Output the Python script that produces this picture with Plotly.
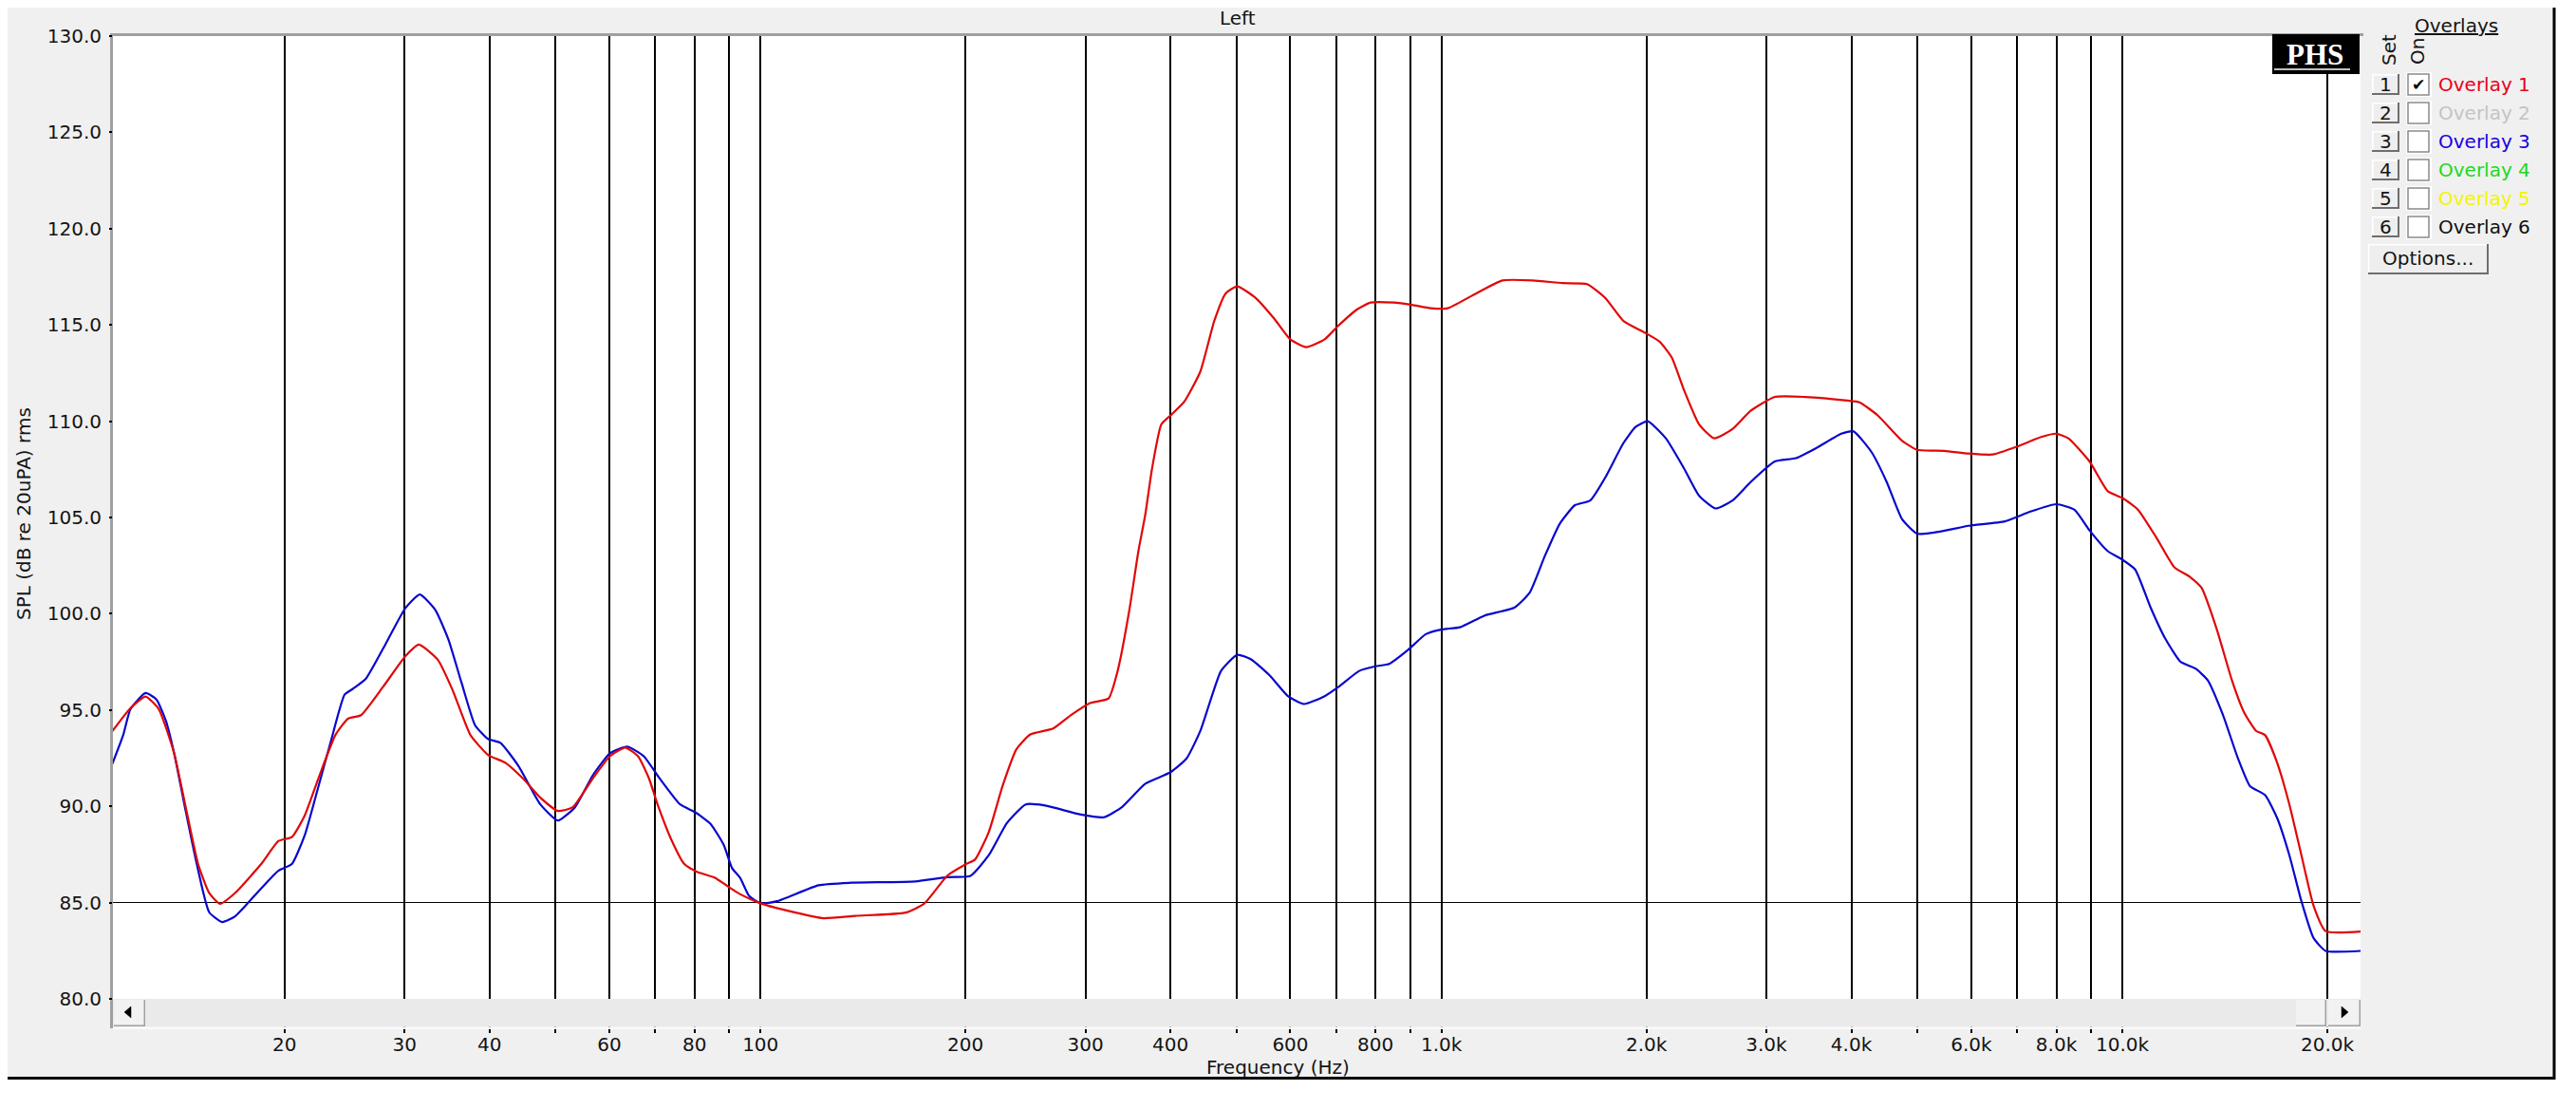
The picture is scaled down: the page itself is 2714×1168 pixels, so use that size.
import plotly.graph_objects as go

# ---------------- data ----------------
RED_FREQ = [11.17, 11.88, 12.5, 13.07, 13.77, 14.29, 14.93, 15.5, 16.07, 16.92, 18.48, 19.6, 20.5, 21.4,
            22.4, 23.75, 24.8, 25.9, 27.9, 30.1, 31.5, 33.6, 35.3, 37.5, 39.8, 42.2, 44.8, 47.5, 50.4,
            53.0, 56.7, 60.1, 63.3, 66.1, 68.6, 70.6, 73.9, 77.3, 80.7, 85.6, 90.8, 93.4, 100.2, 112.6,
            123.6, 137.8, 163.5, 174.0, 188.1, 200.2, 206.5, 216.4, 226.7, 237.6, 249.0, 269.0, 286.4,
            304.7, 324.4, 334.6, 347.9, 358.9, 367.4, 375.9, 387.8, 400.1, 419.3, 442.6, 463.8, 482.2,
            501.4, 533.7, 568.0, 599.8, 633.0, 673.8, 706.2, 751.3, 787.3, 851.0, 905.6, 963.8, 1022,
            1109, 1229, 1362, 1508, 1637, 1740, 1851, 1988, 2092, 2180, 2271, 2391, 2516, 2676, 2845,
            3088, 3420, 3947, 4112, 4373, 4746, 4996, 5477, 5944, 6452, 7003, 7599, 7998, 8332, 8950,
            9521, 10020, 10546, 11213, 11925, 12552, 13075, 13764, 14484, 15092, 15718, 16210, 16884,
            17591, 18323, 19090, 19884, 22400]
RED_SPL = [93.9, 95.1, 95.7, 95.05, 92.75, 90.1, 87.0, 85.5, 84.94, 85.5, 87.0, 88.2, 88.4, 89.5,
           91.4, 93.7, 94.56, 94.73, 96.2, 97.8, 98.4, 97.6, 96.04, 93.7, 92.67, 92.26, 91.44, 90.45, 89.76,
           89.95, 91.44, 92.6, 93.05, 92.6, 91.44, 90.1, 88.3, 87.0, 86.6, 86.3, 85.7, 85.43, 84.95, 84.48,
           84.19, 84.31, 84.48, 84.95, 86.4, 86.99, 87.23, 88.66, 91.05, 92.96, 93.73, 94.04, 94.76,
           95.36, 95.6, 97.03, 100.14, 103.25, 105.16, 107.55, 109.83, 110.3, 111.02, 112.58, 115.2, 116.64,
           117.0, 116.4, 115.33, 114.25, 113.84, 114.25, 114.97, 115.8, 116.16, 116.16, 116.04, 115.87, 115.87,
           116.52, 117.31, 117.31, 117.17, 117.12, 116.4, 115.2, 114.6, 114.13, 113.3, 111.62, 109.83, 109.11, 109.59, 110.54,
           111.26, 111.26, 111.07, 110.98, 110.3, 108.99, 108.51, 108.46, 108.32, 108.27, 108.68, 109.18, 109.35, 109.11, 107.91,
           106.36, 106.0, 105.4, 103.97, 102.41, 101.93, 101.34, 99.19, 96.55, 94.88, 93.92, 93.69, 92.25,
           90.1, 87.46, 84.84, 83.52, 83.5]

BLUE_FREQ = [11.17, 11.59, 11.88, 12.5, 12.97, 13.4, 13.77, 14.29, 14.8, 15.5, 16.2, 16.92, 17.9, 19.6,
             20.5, 21.4, 22.2, 23.4, 24.5, 25.2, 26.3, 27.9, 30.1, 31.6, 33.3, 34.8, 36.4, 38.1, 39.8,
             41.5, 44.1, 47.5, 50.4, 53.4, 56.7, 60.1, 63.7, 67.4, 70.6, 76.2, 80.1, 84.4, 88.3, 90.8,
             93.4, 96.2, 100.2, 105.8, 121.7, 135.7, 168.7, 188.1, 203.4, 216.4, 230.2, 245.2, 260.9,
             295.4, 319.3, 339.8, 367.4, 400.1, 422.5, 442.6, 456.6, 474.6, 501.4, 525.5, 559.3, 595.0,
             628.0, 673.8, 706.2, 757.2, 799.7, 837.9, 891.8, 948.8, 1002, 1065, 1156, 1281, 1348, 1419,
             1493, 1571, 1654, 1740, 1851, 1928, 2009, 2136, 2271, 2391, 2527, 2676, 2845, 3088, 3317,
             3563, 3866, 4030, 4283, 4508, 4746, 4996, 5366, 5944, 6722, 7296, 7998, 8506, 8950, 9521,
             9918, 10441, 10986, 11561, 12170, 12808, 13346, 14047, 14784, 15398, 16210, 16884, 17591,
             18323, 19090, 19884, 22400]
BLUE_SPL = [92.2, 93.7, 95.05, 95.88, 95.55, 94.4, 92.75, 89.9, 87.3, 84.5, 83.99, 84.28, 85.2, 86.66,
            87.0, 88.47, 90.45, 93.4, 95.8, 96.1, 96.6, 98.18, 100.3, 101.0, 100.2, 98.67, 96.4, 94.2, 93.5,
            93.3, 92.1, 90.1, 89.26, 89.95, 91.6, 92.75, 93.1, 92.6, 91.6, 90.1, 89.7, 89.1, 88.0, 86.8,
            86.27, 85.35, 84.95, 85.07, 85.9, 86.03, 86.1, 86.32, 86.39, 87.46, 89.14, 90.1, 90.05,
            89.57, 89.43, 89.97, 91.17, 91.77, 92.49, 93.92, 95.36, 97.03, 97.87, 97.63, 96.8, 95.72,
            95.31, 95.72, 96.2, 97.03, 97.27, 97.39, 98.1, 98.94, 99.19, 99.3, 99.9, 100.33, 101.1, 103.01,
            104.69, 105.64, 105.88, 107.07, 108.87, 109.7, 110.0, 109.11, 107.55, 106.12, 105.47, 105.88, 106.84, 107.91, 108.08,
            108.63, 109.35, 109.47, 108.39, 106.84, 104.92, 104.16, 104.25, 104.57, 104.8, 105.28, 105.69, 105.4, 104.33, 103.25,
            102.89, 102.3, 100.38, 98.71, 97.51, 97.15, 96.55, 94.76, 92.49, 91.05, 90.58, 89.38, 87.46,
            85.07, 83.16, 82.49, 82.49]

X_GRID = [20, 30, 40, 50, 60, 70, 80, 90, 100, 200, 300, 400, 500, 600, 700, 800, 900,
          1000, 2000, 3000, 4000, 5000, 6000, 7000, 8000, 9000, 10000, 20000]
X_LABELS = ["20", "30", "40", "", "60", "", "80", "", "100", "200", "300", "400", "", "600", "", "800", "",
            "1.0k", "2.0k", "3.0k", "4.0k", "", "6.0k", "", "8.0k", "", "10.0k", "20.0k"]
Y_TICKS = [80, 85, 90, 95, 100, 105, 110, 115, 120, 125, 130]
Y_LABELS = ["80.0", "85.0", "90.0", "95.0", "100.0", "105.0", "110.0", "115.0", "120.0", "125.0", "130.0"]
Y_THIN_GRID = [85]
Y_THICK_GRID = [90, 95, 100, 105, 110, 115, 120, 125, 130]

OVERLAY_NAMES = ["Overlay 1", "Overlay 2", "Overlay 3", "Overlay 4", "Overlay 5", "Overlay 6"]
OVERLAY_COLORS = ["#E8001A", "#C4C4C4", "#1A00E0", "#1ED81E", "#F4F400", "#101010"]

# ---------------- layout geometry (pixels of the reference) ----------------
OFF = 8                      # the page body has an 8px margin
W, H = 2714 - 2 * OFF, 1168 - 2 * OFF - 2
L, R, T, B = 119, 2487, 38, 1052
FONT = "DejaVu Sans"
TXT = "#141414"


def px(x):
    return (x - L) / (R - L)


def py(y):
    return (B - y) / (B - T)


shapes = []


def rect(x0, y0, x1, y1, fill, line_color=None, lw=0, layer="below"):
    shapes.append(dict(type="rect", xref="paper", yref="paper", x0=px(x0), x1=px(x1),
                       y0=py(y1), y1=py(y0), fillcolor=fill, layer=layer,
                       line=dict(color=line_color or fill, width=lw)))


def seg(x0, y0, x1, y1, color, lw, layer="below"):
    shapes.append(dict(type="line", xref="paper", yref="paper", x0=px(x0), x1=px(x1),
                       y0=py(y0), y1=py(y1), layer=layer, line=dict(color=color, width=lw)))


def poly(pts, color, layer="above"):
    path = "M " + " L ".join(f"{px(a)},{py(b)}" for a, b in pts) + " Z"
    shapes.append(dict(type="path", xref="paper", yref="paper", path=path, fillcolor=color,
                       line=dict(color=color, width=0.5), layer=layer))


# window frame and plot area
rect(1.5, 1.5, 2691, 1135.5, "#F0F0F0", "#000000", 3)
rect(L, T, R, B, "#FFFFFF")
rect(116, 35, 119, 1083, "#A0A0A0")
rect(116, 35, 2490, 38, "#A0A0A0")
seg(1652, 6, 2079, 6, "#DCE1E8", 1.5)
seg(2079, 3, 2079, 8, "#555555", 2.5)
seg(1651, 7, 1653, 7, "#777777", 2)

# horizontal scroll bar (covers the upper part of the long x ticks)
rect(L, B, R, 1081.5, "#EAEAEA", layer="above")
rect(L, 1081.5, R, 1084, "#FAFAFA", layer="above")
for (a, b) in [(120, 153), (2419, 2451), (2453, 2487)]:
    rect(a, 1053, b, 1081, "#A0A0A0", layer="above")
    rect(a, 1053, b - 1.5, 1079.5, "#F2F2F2", layer="above")
poly([(138, 1060), (131, 1066), (138, 1072)], "#000000")
poly([(2467, 1060), (2474, 1066), (2467, 1072)], "#000000")

# PHS logo
rect(2394, 36, 2486, 78, "#000000", layer="above")
seg(2396, 73, 2476, 73, "#FFFFFF", 1.5, layer="above")

# overlay buttons / checkboxes
row_y = [89 + 30 * i for i in range(6)]
for i, cy in enumerate(row_y):
    rect(2499, cy - 11, 2528, cy + 11, "#6E6E6E")
    rect(2499, cy - 11, 2526, cy + 9, "#FFFFFF")
    rect(2500.5, cy - 9.5, 2526, cy + 9, "#EEEEEE")
    rect(2535, cy - 13, 2562, cy + 13, "#FFFFFF")
    rect(2537, cy - 11, 2559, cy + 11, "#FFFFFF", "#8A8A8A", 1.5)
rect(2495, 257, 2622, 289, "#6E6E6E")
rect(2495, 257, 2620, 287, "#FFFFFF")
rect(2496.5, 258.5, 2620, 287, "#EEEEEE")

annotations = []


def text(x, y, s, size=20, color=TXT, anchor="center", angle=0, family=FONT):
    annotations.append(dict(xref="paper", yref="paper", x=px(x), y=py(y), text=s, showarrow=False,
                            xanchor=anchor, yanchor="middle", textangle=angle,
                            font=dict(family=family, size=size, color=color)))


text(1304, 19, "Left")
text(1347, 1124, "Frequency (Hz)")
text(25, 541, "SPL (dB re 20uPA) rms", angle=-90)
text(2439, 58, "<b>PHS</b>", size=31, color="#FFFFFF", family="Liberation Serif")
text(2588, 27, "<u>Overlays</u>")
text(2517, 53, "Set", angle=-90)
text(2547, 54, "On", angle=-90)
for i, cy in enumerate(row_y):
    text(2513, cy, str(i + 1))
    text(2567, cy, OVERLAY_NAMES[i], color=OVERLAY_COLORS[i], anchor="left")
text(2548, row_y[0], "✔", size=17, color="#000000")
text(2558, 272, "Options...")

# ---------------- figure ----------------
fig = go.Figure()
fig.add_trace(go.Scatter(x=BLUE_FREQ, y=BLUE_SPL, mode="lines", name="Overlay 3",
                         line=dict(color="#0808CC", width=2.2, shape="spline", smoothing=0.5)))
fig.add_trace(go.Scatter(x=RED_FREQ, y=RED_SPL, mode="lines", name="Overlay 1",
                         line=dict(color="#E00808", width=2.2, shape="spline", smoothing=0.5)))

fig.update_layout(
    width=W, height=H,
    margin=dict(l=L - OFF, r=W - (R - OFF), t=T - OFF, b=H - (B - OFF), pad=0),
    paper_bgcolor="#FFFFFF", plot_bgcolor="rgba(0,0,0,0)",
    showlegend=False,
    shapes=shapes, annotations=annotations,
    xaxis=dict(type="log", range=[1.04901, 4.34982], tickmode="array", tickvals=X_GRID,
               ticktext=X_LABELS, showgrid=True, gridcolor="#000000", gridwidth=2,
               ticks="outside", ticklen=35, tickwidth=2, tickcolor="#000000",
               ticklabelstandoff=-5, showline=False, zeroline=False, automargin=False,
               tickfont=dict(family=FONT, size=20, color=TXT)),
    yaxis=dict(range=[80, 130], tickmode="array", tickvals=Y_TICKS, ticktext=Y_LABELS,
               showgrid=False, ticks="outside", ticklen=3, tickwidth=2, tickcolor="#000000",
               ticklabelstandoff=4, showline=False, zeroline=False, automargin=False,
               tickfont=dict(family=FONT, size=20, color=TXT),
               minor=dict(tickmode="array", tickvals=Y_THIN_GRID, showgrid=True,
                          gridcolor="#000000", gridwidth=1, ticks="")),
    yaxis2=dict(overlaying="y", matches="y", side="left", tickmode="array", tickvals=Y_THICK_GRID,
                showgrid=True, gridcolor="#000000", gridwidth=2, showticklabels=False,
                ticks="", showline=False, zeroline=False, automargin=False),
)

fig.write_html("out.html")
